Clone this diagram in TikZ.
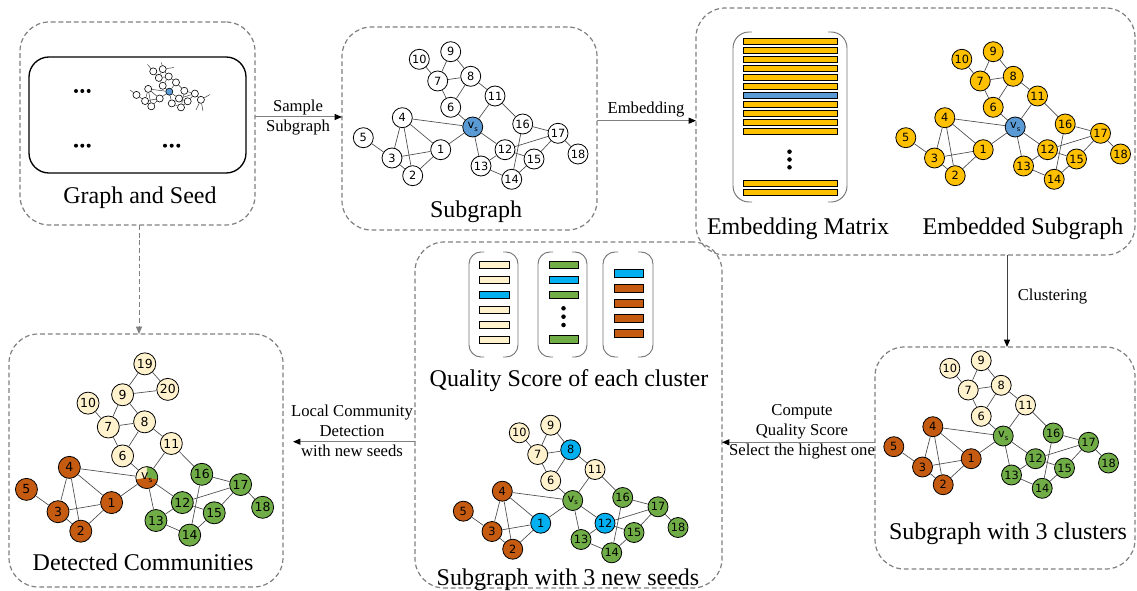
\documentclass[tikz,border=0pt]{standalone}
\usepackage{fontspec}
\setmainfont{Liberation Serif}
\newfontfamily\numfont{DejaVu Sans}
\usetikzlibrary{arrows.meta}

\definecolor{gold}{HTML}{FFC000}
\definecolor{vsblue}{HTML}{5B9BD5}
\definecolor{rust}{HTML}{C55A11}
\definecolor{cream}{HTML}{FFF2CC}
\definecolor{leaf}{HTML}{70AD47}
\definecolor{seed}{HTML}{00B0F0}
\definecolor{frame}{HTML}{7F7F7F}

\newcommand\vsl{v\raisebox{-0.45ex}{\fontsize{5}{5}\selectfont s}}
\newcommand\gl[1]{#1}

% one copy of the sampled subgraph, positions relative to the seed v_s
\newcommand\subgraphcopy[1]{%
  \node[gn,gv] (#1-vs) at (0,0) {\gl{\vsl}};
  \node[gn,ga,n1] (#1-1) at (-32,22.7) {\gl{1}};
  \node[gn,ga] (#1-2) at (-60,48.7) {\gl{2}};
  \node[gn,ga] (#1-3) at (-80.7,31) {\gl{3}};
  \node[gn,ga] (#1-4) at (-70.4,-9.3) {\gl{4}};
  \node[gn,ga] (#1-5) at (-109.4,10.7) {\gl{5}};
  \node[gn,gb] (#1-6) at (-22,-19.7) {\gl{6}};
  \node[gn,gb] (#1-7) at (-35,-46) {\gl{7}};
  \node[gn,gb,n8] (#1-8) at (-2,-50.7) {\gl{8}};
  \node[gn,gb] (#1-9) at (-22,-75.3) {\gl{9}};
  \node[gn,gb] (#1-10) at (-53.4,-67.7) {\gl{10}};
  \node[gn,gb] (#1-11) at (22.3,-31) {\gl{11}};
  \node[gn,gc,n12] (#1-12) at (32.3,22.7) {\gl{12}};
  \node[gn,gc] (#1-13) at (8.3,39) {\gl{13}};
  \node[gn,gc] (#1-14) at (39,52.3) {\gl{14}};
  \node[gn,gc] (#1-15) at (61.3,32) {\gl{15}};
  \node[gn,gc] (#1-16) at (50,-3) {\gl{16}};
  \node[gn,gc] (#1-17) at (85.3,6.3) {\gl{17}};
  \node[gn,gc] (#1-18) at (105.3,27) {\gl{18}};
  \foreach \a/\b in {10/7,9/7,9/8,7/8,7/6,6/8,8/11,11/vs,6/vs,4/vs,1/vs,vs/12,vs/13,
      11/16,16/17,16/14,17/18,17/15,17/12,12/15,12/13,13/14,14/15,4/3,4/2,4/1,3/1,3/2,2/1,5/3}
    \draw[ge] (#1-\a) -- (#1-\b);
}

% open "( )" frame drawn as two rounded brackets
\newcommand\brackets[6]{%
  \draw[brk, rounded corners=#5] ({#1+#6},#2) -- (#1,#2) -- (#1,#4) -- ({#1+#6},#4);
  \draw[brk, rounded corners=#5] ({#3-#6},#2) -- (#3,#2) -- (#3,#4) -- ({#3-#6},#4);
}

\tikzset{
  gn/.style={circle, draw=black, line width=0.6pt, fill=white, minimum size=15pt,
    inner sep=0pt, font=\numfont\fontsize{8.5}{9}\selectfont},
  ga/.style={}, gb/.style={}, gc/.style={}, gv/.style={fill=vsblue},
  n1/.style={}, n8/.style={}, n12/.style={},
  ge/.style={draw=black!70, line width=0.5pt},
  panel/.style={draw=frame, line width=0.9pt, dash pattern=on 3.6pt off 2.2pt,
    rounded corners=22pt, inner sep=0pt, outer sep=0pt},
  brk/.style={draw=black!55, line width=0.7pt},
  bar/.style={draw=black, line width=0.5pt},
  biglab/.style={font=\fontsize{18}{20}\selectfont, anchor=base, inner sep=0pt},
  note/.style={font=\fontsize{12.5}{15}\selectfont, align=center, inner sep=0pt},
  flow/.style={draw=black!50, line width=0.75pt, -{Triangle[length=5.5pt,width=4.5pt,color=black]}},
  dot/.style={fill=black},
}

\begin{document}
\begin{tikzpicture}[x=0.75pt, y=-0.75pt]
\useasboundingbox (0,0) rectangle (1137,591);

% ---------- panels ----------
\node[panel, minimum width=176.25pt, minimum height=152.25pt] (p1) at (137.5,123.5) {};
\node[panel, minimum width=191.25pt, minimum height=152.25pt] (p2) at (469.5,128.5) {};
\node[panel, minimum width=329.25pt, minimum height=185.25pt] (p3) at (915.5,131.5) {};
\node[panel, minimum width=195pt, minimum height=166.5pt] (p4) at (1005,458) {};
\node[panel, minimum width=230.25pt, minimum height=259.5pt] (p5) at (568.5,415) {};
\node[panel, minimum width=205.5pt, minimum height=189.75pt] (p6) at (146,460.5) {};

% ---------- panel 1: whole graph with the seed ----------
\node[draw=black, line width=1pt, rounded corners=15pt, minimum width=162.75pt,
  minimum height=87pt, inner sep=0pt] (world) at (137.5,115) {};
\foreach \x/\y in {76/91,82.3/91,88.7/91,76/145.7,82.3/145.7,88.7/145.7,165/145.7,171.7/145.7,178.3/145.7}
  \fill[dot] (\x,\y) circle[radius=1.5pt];
\begin{scope}[shift={(169.3,91.7)}, scale=0.3,
    gn/.style={circle, draw=black, line width=0.45pt, fill=white, minimum size=5.3pt, inner sep=0pt},
    ge/.style={draw=black!80, line width=0.35pt}]
  \renewcommand\gl[1]{}
  \subgraphcopy{mini}
\end{scope}
\coordinate (t1) at (147.5,64.5);
\coordinate (t2) at (161.5,62.5);
\coordinate (t3) at (174,67.5);
\coordinate (t4) at (130,90);
\coordinate (t5) at (210,94.5);
\coordinate (t6) at (196,110);
\coordinate (t7) at (203,111);
\foreach \n/\t in {10/t1,9/t2,9/t3,5/t4,18/t5,18/t6,18/t7}
  \draw[draw=black!80, line width=0.35pt] (mini-\n) -- (\t);
\node[biglab] at (140,204) {Graph and Seed};

% ---------- panel 2: sampled subgraph ----------
\begin{scope}[shift={(472.7,127)}]
  \subgraphcopy{sub}
\end{scope}
\node[biglab] at (476,218) {Subgraph};

% ---------- panel 3: embedding ----------
\brackets{733}{32}{847}{202}{12pt}{19}
\foreach \i in {0,...,10}
  \draw[bar, fill=gold] (743,{41.5+9*\i-3}) rectangle (837,{41.5+9*\i+3});
\draw[bar, fill=vsblue] (743,92.5) rectangle (837,98.5);
\draw[bar, fill=gold] (743,180.7) rectangle (837,186.7);
\draw[bar, fill=gold] (743,189.7) rectangle (837,195.7);
\foreach \y in {151.7,159.5,167.3}
  \fill[dot] (789.5,\y) circle[radius=1.7pt];
\node[biglab] at (798,234.3) {Embedding Matrix};
\begin{scope}[shift={(1015.2,127)}, ga/.style={fill=gold}, gb/.style={fill=gold}, gc/.style={fill=gold}]
  \subgraphcopy{emb}
\end{scope}
\node[biglab] at (1023,234.3) {Embedded Subgraph};

% ---------- panel 4: clusters ----------
\begin{scope}[shift={(1003.2,436)}, ga/.style={fill=rust}, gb/.style={fill=cream},
    gc/.style={fill=leaf}, gv/.style={fill=leaf}]
  \subgraphcopy{clu}
\end{scope}
\node[biglab] at (1008,539.3) {Subgraph with 3 clusters};

% ---------- panel 5: quality scores and new seeds ----------
\brackets{469}{252}{518}{357}{9pt}{15}
\brackets{538}{252}{587}{357}{9pt}{15}
\brackets{603}{252}{653}{357}{9pt}{15}
\foreach \y/\c in {265/cream,280/cream,295/seed,310/cream,325/cream,340/cream}
  \draw[bar, fill=\c] (479,\y-3.7) rectangle (509,\y+3.7);
\foreach \y/\c in {265/leaf,280/seed,295/leaf,339.3/leaf}
  \draw[bar, fill=\c] (549,\y-3.7) rectangle (578.5,\y+3.7);
\foreach \y in {308.3,316.7,325}
  \fill[dot] (563.5,\y) circle[radius=1.7pt];
\foreach \y/\c in {273.3/seed,288.3/rust,303.3/rust,318.3/rust,333.3/rust}
  \draw[bar, fill=\c] (614,\y-3.7) rectangle (643.5,\y+3.7);
\node[biglab] at (569,386.7) {Quality Score of each cluster};
\begin{scope}[shift={(572.7,500.5)}, ga/.style={fill=rust}, gb/.style={fill=cream},
    gc/.style={fill=leaf}, gv/.style={fill=leaf},
    n1/.style={fill=seed}, n8/.style={fill=seed}, n12/.style={fill=seed}]
  \subgraphcopy{new}
\end{scope}
\node[biglab] at (568,585) {Subgraph with 3 new seeds};

% ---------- panel 6: detected communities ----------
\begin{scope}[shift={(146.8,477.6)}, scale=1.1, transform shape,
    ga/.style={fill=rust}, gb/.style={fill=cream}, gc/.style={fill=leaf},
    gv/.style={fill=cream, path picture={
      \fill[leaf] (path picture bounding box.center) -- ++(90:12pt)
        arc[start angle=90, end angle=-10, radius=12pt] -- cycle;
      \fill[rust] (path picture bounding box.center) -- ++(-10:12pt)
        arc[start angle=-10, end angle=-170, radius=12pt] -- cycle;}}]
  \subgraphcopy{det}
  \node[gn,gb] (det-19) at (-1.8,-103.4) {19};
  \node[gn,gb] (det-20) at (19.1,-80.2) {20};
  \draw[ge] (det-9) -- (det-19);
  \draw[ge] (det-9) -- (det-20);
  \draw[ge] (det-19) -- (det-20);
\end{scope}
\node[biglab] at (143,570) {Detected Communities};

% ---------- connectors ----------
\coordinate (y1) at (298,117);
\draw[flow] (p1.east |- y1) -- (p2.west |- y1);
\node[note] at (298,117.5) {Sample\\Subgraph};

\coordinate (y2) at (646,120.7);
\draw[flow] (p2.east |- y2) -- (p3.west |- y2);
\node[note] at (646,110) {Embedding};

\coordinate (x3) at (1007,300);
\draw[flow, draw=black!75] (p3.south -| x3) -- (p4.north -| x3);
\node[note, anchor=west] at (1017.5,297) {Clustering};

\coordinate (y4) at (800,442.3);
\draw[flow] (p4.west |- y4) -- (p5.east |- y4);
\node[note] at (802,432) {Compute\\Quality Score\\Select the highest one};

\coordinate (a5) at (293,441.7);
\draw[flow] (p5.west |- a5) -- (a5);
\node[note] at (352,430.5) {Local Community\\Detection\\with new seeds};

\coordinate (x6) at (139,280);
\draw[draw=frame, line width=0.75pt, dash pattern=on 3.6pt off 2.2pt,
  -{Triangle[length=5.5pt,width=4.5pt,color=frame]}] (p1.south -| x6) -- (p6.north -| x6);
\end{tikzpicture}
\end{document}
